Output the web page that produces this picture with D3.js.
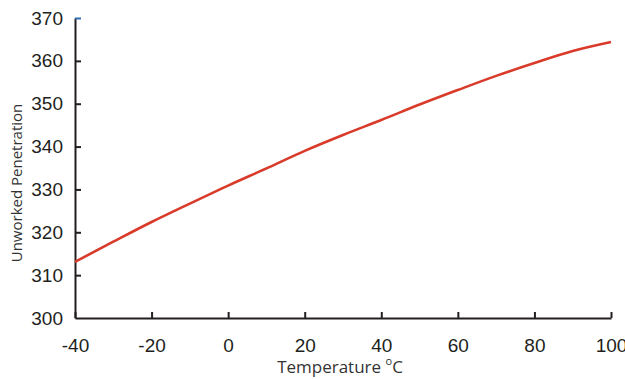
<!DOCTYPE html>
<html>
<head>
<meta charset="utf-8">
<script src="https://cdn.jsdelivr.net/npm/d3@7"></script>
<style>
  body { margin: 0; background: #fff; }
  svg { display: block; }
</style>
</head>
<body>
<div id="chart"></div>
<script>
// values
const temps = [-40, -30, -20, -10, 0, 10, 20, 30, 40, 50, 60, 70, 80, 90, 100];
const penetration = [313.1, 317.8, 322.4, 326.7, 330.9, 334.9, 339.0, 342.7, 346.2, 349.8, 353.2, 356.5, 359.5, 362.3, 364.4];
const xTicks = [-40, -20, 0, 20, 40, 60, 80, 100];
const yTicks = [300, 310, 320, 330, 340, 350, 360, 370];

const width = 625, height = 379;
const margin = {top: 18, right: 14, bottom: 61, left: 75};

const svg = d3.select('#chart')
  .append('svg')
  .attr('width', width)
  .attr('height', height);

const x = d3.scaleLinear().domain([-40, 100]).range([margin.left, width - margin.right]);
const y = d3.scaleLinear().domain([300, 370]).range([height - margin.bottom, margin.top]);

const axisColor = '#231f20';
const plain = d => String(d);   // hyphen minus like the reference

// x axis, ticks pointing inward
const gx = svg.append('g')
  .attr('transform', `translate(0,${y(300)})`)
  .call(d3.axisBottom(x).tickValues(xTicks).tickFormat(plain).tickSize(-6).tickPadding(21).tickSizeOuter(0));
gx.select('.domain').attr('stroke', axisColor).attr('stroke-width', 2);
gx.selectAll('.tick line').attr('stroke', axisColor).attr('stroke-width', 2);
gx.selectAll('.tick text')
  .attr('fill', axisColor)
  .style('font-family', 'Liberation Sans, Arial, sans-serif')
  .style('font-size', '19px');

// y axis
const gy = svg.append('g')
  .attr('transform', `translate(${x(-40)},0)`)
  .call(d3.axisLeft(y).tickValues(yTicks).tickFormat(plain).tickSize(-6).tickPadding(12).tickSizeOuter(0));
gy.select('.domain').attr('stroke', axisColor).attr('stroke-width', 2);
gy.selectAll('.tick line')
  .attr('stroke', d => d === 370 ? '#2f6db5' : axisColor)
  .attr('stroke-width', 2)
  .attr('display', d => d === 300 ? 'none' : null);
gy.selectAll('.tick text')
  .attr('fill', axisColor)
  .style('font-family', 'Liberation Sans, Arial, sans-serif')
  .style('font-size', '19px');

// curve
const line = d3.line()
  .x((d, i) => x(temps[i]))
  .y(d => y(d))
  .curve(d3.curveMonotoneX);

svg.append('path')
  .datum(penetration)
  .attr('d', line)
  .attr('fill', 'none')
  .attr('stroke', '#d93b2b')
  .attr('stroke-width', 2.6);

// axis titles
svg.append('text')
  .attr('transform', `translate(22,${(y(300) + y(370)) / 2 + 15}) rotate(-90)`)
  .attr('text-anchor', 'middle')
  .attr('fill', '#333')
  .style('font-family', 'Open Sans, sans-serif')
  .style('font-size', '15px')
  .text('Unworked Penetration');

const xt = svg.append('text')
  .attr('x', 340)
  .attr('y', 373)
  .attr('text-anchor', 'middle')
  .attr('fill', '#333')
  .style('font-family', 'Open Sans, sans-serif')
  .style('font-size', '17px');
xt.append('tspan').text('Temperature ');
xt.append('tspan').attr('dy', -8).style('font-size', '11px').text('o');
xt.append('tspan').attr('dy', 8).text('C');
</script>
</body>
</html>
